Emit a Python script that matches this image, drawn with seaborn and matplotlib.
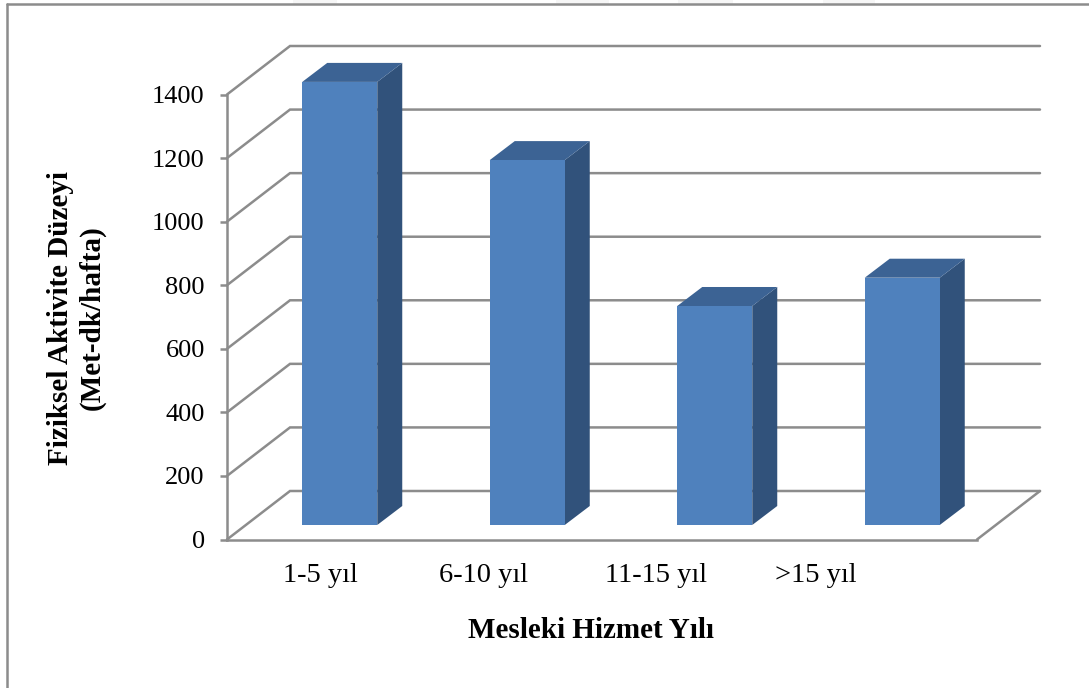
"""Fiziksel aktivite by years of service, drawn as a fake-3D column chart."""

import matplotlib
matplotlib.use("Agg")
import matplotlib.pyplot as plt
import pandas as pd
import seaborn as sns
from matplotlib.lines import Line2D
from matplotlib.patches import Polygon, Rectangle

# Data
categories = ["1-5 yıl", "6-10 yıl", "11-15 yıl", ">15 yıl"]
values = [1394, 1148, 689, 778]
y_ticks = [0, 200, 400, 600, 800, 1000, 1200, 1400]
x_label = "Mesleki Hizmet Yılı"
y_label = "Fiziksel Aktivite Düzeyi\n(Met-dk/hafta)"

# Canvas / layout in pixels
W, H = 1089, 688
AX_L, AX_R, AX_B, AX_T = 227, 977, 539.5, 94.5
PX_X = (AX_R - AX_L) / 4  # pixels per category
PX_Y = (AX_B - AX_T) / 1400  # pixels per value unit

# The labels in the original sit left of the columns, they drift with each category
LABEL_POS = [0.0, 0.87, 1.79, 2.64]

# Depth offsets, given in pixels and converted to data units
WALL = (63 / PX_X, 48.5 / PX_Y)
BAR_PLANE = (19 / PX_X, 14.5 / PX_Y)
BAR_DEPTH = (25 / PX_X, 19 / PX_Y)

GRID = "#8c8c8c"
FRONT = "#4f81bd"
SIDE = "#31527b"
TOP = "#3c6394"
LW = 1.8

# Bits of the page watermark showing above the frame (x from, x to)
WATERMARK = [(160, 210), (293, 337), (556, 609), (678, 733), (823, 875)]


def draw_walls(ax):
    x0, x1 = -0.5, 3.5
    for v in y_ticks:
        xs = [x0, x0 + WALL[0], x1 + WALL[0]]
        ys = [v, v + WALL[1], v + WALL[1]]
        ax.plot(xs, ys, color=GRID, lw=LW, clip_on=False, zorder=1, solid_joinstyle="miter")
    # floor, right edge
    ax.plot([x1, x1 + WALL[0]], [0, WALL[1]], color=GRID, lw=LW, clip_on=False, zorder=1)


def extrude_bars(ax):
    for patch in ax.patches:
        patch.set_x(patch.get_x() + BAR_PLANE[0])
        patch.set_y(BAR_PLANE[1])
        patch.set_clip_on(False)
        patch.set_zorder(4)
        patch.set_edgecolor("none")
        patch.set_linewidth(0)
        x = patch.get_x()
        w = patch.get_width()
        b = patch.get_y()
        t = b + patch.get_height()
        dx, dy = BAR_DEPTH
        side = [(x + w, b), (x + w + dx, b + dy), (x + w + dx, t + dy), (x + w, t)]
        top = [(x, t), (x + dx, t + dy), (x + w + dx, t + dy), (x + w, t)]
        ax.add_patch(Polygon(side, closed=True, fc=SIDE, ec="none", clip_on=False, zorder=3))
        ax.add_patch(Polygon(top, closed=True, fc=TOP, ec="none", clip_on=False, zorder=3))


def main():
    sns.set_style("white")
    plt.rcParams["font.family"] = ["Liberation Serif", "DejaVu Serif"]

    fig = plt.figure(figsize=(W / 100, H / 100), dpi=100, facecolor="white")
    ax = fig.add_axes([AX_L / W, 1 - AX_B / H, (AX_R - AX_L) / W, (AX_B - AX_T) / H])
    ax.patch.set_alpha(0)

    df = pd.DataFrame({"grup": categories, "deger": values})
    sns.barplot(data=df, x="grup", y="deger", color=FRONT, saturation=1, width=0.4, ax=ax, zorder=4)

    ax.set_xlim(-0.5, 3.5)
    ax.set_ylim(0, 1400)
    ax.set_yticks(y_ticks)
    ax.set_xticks(LABEL_POS, categories)
    ax.set_xlabel("")
    ax.set_ylabel("")
    ax.tick_params(axis="y", length=5, width=LW, color=GRID, labelsize=19, labelcolor="black", pad=11, left=True)
    ax.tick_params(axis="x", length=0, labelsize=20.5, labelcolor="black", pad=17)

    sns.despine(ax=ax, top=True, right=True)
    for side in ["left", "bottom"]:
        ax.spines[side].set_color(GRID)
        ax.spines[side].set_linewidth(LW)

    draw_walls(ax)
    extrude_bars(ax)

    # Axis titles
    fig.text(591 / W, 1 - 630 / H, x_label, ha="center", va="center", color="black",
             fontsize=21, fontweight="bold")
    fig.text(76.5 / W, 1 - 318 / H, y_label, ha="center", va="center", rotation=90, color="black",
             fontsize=21, fontweight="bold", linespacing=1.22, multialignment="center")

    # Frame around the chart (it runs off the page right and below)
    for x_from, x_to in WATERMARK:
        fig.add_artist(Rectangle((x_from / W, 1 - 4 / H), (x_to - x_from) / W, 4 / H,
                                 fc="#f6f6f6", ec="none", transform=fig.transFigure))
    fig.add_artist(Line2D([7 / W, 7 / W], [0, 1 - 4 / H], color=GRID, lw=LW))
    fig.add_artist(Line2D([7 / W, 1], [1 - 4 / H, 1 - 4 / H], color=GRID, lw=LW))

    fig.savefig("out.png", dpi=100)
    plt.close(fig)


if __name__ == "__main__":
    main()
